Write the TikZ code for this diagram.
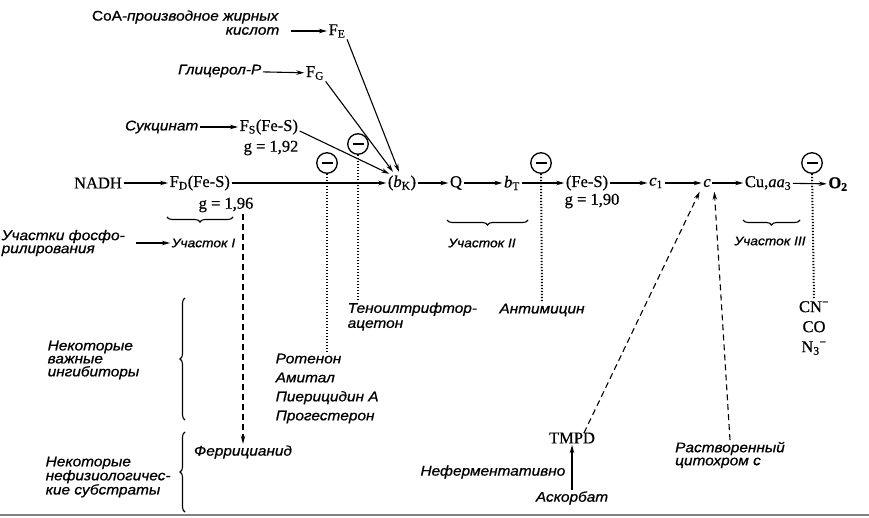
\documentclass[tikz,border=0pt]{standalone}
\usepackage{fontspec}
\setmainfont{Liberation Serif}[FakeBold=0.6]
\newfontfamily\labfont[FakeStretch=1.1,FakeBold=0.8]{Liberation Sans}
\usetikzlibrary{arrows.meta,decorations.pathreplacing,calc}
\begin{document}
\begin{tikzpicture}[x=1pt,y=-1pt,
  every node/.style={inner sep=1.5pt},
  main/.style={font=\fontsize{16.5}{18}\selectfont},
  lab/.style={font=\labfont\itshape\fontsize{14}{13}\selectfont},
  site/.style={font=\labfont\itshape\fontsize{12.5}{13}\selectfont},
  arr/.style={-{Stealth[length=8pt,width=4.5pt]}, line width=1.1pt},
  dasharr/.style={arr, dash pattern=on 6pt off 4pt},
  dots/.style={line width=2pt, dash pattern=on 1.3pt off 1.7pt},
  inh/.style={circle, draw, line width=1.3pt, minimum size=20.5pt, inner sep=0pt,
    path picture={\draw[line width=1.4pt] ($(path picture bounding box.center)+(-5.5,0)$) -- ($(path picture bounding box.center)+(5.5,0)$);}},
  brc/.style={decorate, decoration={brace, amplitude=5pt}, line width=1.1pt},
]
\useasboundingbox (0,0) rectangle (869,518);
\draw[gray, line width=2.5pt] (0,515) -- (869,515);

% main chain
\node[main] (nadh) at (98,183) {NADH};
\node[main, anchor=west] (fd) at (168,183) {F\textsubscript{D}(Fe-S)};
\node[main] (gd) at (226,205) {g = 1,96};
\node[main] (bk) at (402,183) {(\textit{b}\textsubscript{K})};
\node[main] (q) at (456,183) {Q};
\node[main] (bt) at (512,183) {\textit{b}\textsubscript{T}};
\node[main] (fes) at (587,183) {(Fe-S)};
\node[main] (g90) at (592,201) {g = 1,90};
\node[main] (c1) at (656,183) {\textit{c}\textsubscript{1}};
\node[main] (c) at (707,183) {\textit{c}};
\node[main] (cu) at (768,183) {Cu,\textit{aa}\textsubscript{3}};
\node[main, font=\fontsize{16.5}{18}\selectfont\bfseries] (o2) at (838,184) {O\textsubscript{2}};

% side substrates
\node[lab, anchor=east] (coaA) at (280,17) {{\upshape CoA}-производное жирных};
\node[lab, anchor=east] (coaB) at (281,31) {кислот};
\node[main] (fe) at (337,31) {F\textsubscript{E}};
\node[lab, anchor=east] (glic) at (263,71) {Глицерол-Р};
\node[main] (fg) at (315,73) {F\textsubscript{G}};
\node[lab, anchor=east] (suc) at (200,127) {Сукцинат};
\node[main, anchor=west] (fs) at (238,127) {F\textsubscript{S}(Fe-S)};
\node[main] (gs) at (271,148) {g = 1,92};

\draw[arr] (nadh) -- (fd);
\draw[arr] (fd) -- (bk);
\draw[arr] (bk) -- (q);
\draw[arr] (q) -- (bt);
\draw[arr] (bt) -- (fes);
\draw[arr] (fes) -- (c1);
\draw[arr] (c1) -- (c);
\draw[arr] (c) -- (cu);
\draw[arr] (cu) -- (o2);
\draw[arr, shorten <=10pt] (coaB) -- (fe);
\draw[arr] (glic) -- (fg);
\draw[arr] (suc) -- (fs);
\draw[arr] ($(fs.east)+(0,4)$) -- ($(bk.north west)+(3,0)$);
\draw[arr] (fg.south east) -- ($(bk.north)+(-9,-2)$);
\draw[arr] (fe.south east) -- ($(bk.north)+(-3,-2)$);

% phosphorylation sites
\node[lab, anchor=west, align=left] (phos) at (0,243) {Участки фосфо-\\рилирования};
\node[site, anchor=west] (uch1) at (170,243) {Участок I};
\node[site] (uch2) at (482,243) {Участок II};
\node[site] (uch3) at (770,241) {Участок III};
\draw[arr, shorten <=10pt] (phos) -- (uch1);
\draw[brc] (233,217) -- (167,217);
\draw[brc] (528,220) -- (447,220);
\draw[brc] (800,220) -- (743,220);

% inhibitors
\node[inh] (i1) at (327,163) {};
\node[inh] (i2) at (358,144) {};
\node[inh] (i3) at (541,163) {};
\node[inh] (i4) at (812,163) {};
\node[lab, anchor=north west, align=left, font=\labfont\itshape\fontsize{14}{19}\selectfont] (rot) at (274,352) {Ротенон\\Амитал\\Пиерицидин А\\Прогестерон};
\node[lab, anchor=north west, align=left, font=\labfont\itshape\fontsize{14}{15}\selectfont] (teno) at (346,301) {Теноилтрифтор-\\ацетон};
\node[lab] (anti) at (542,310) {Антимицин};
\node[main, align=center, font=\fontsize{16.5}{20}\selectfont] (cn) at (814,328) {CN\textsuperscript{−}\\CO\\N\textsubscript{3}\textsuperscript{−}};
\draw[dots] (i1.south) -- (i1.south |- rot.north);
\draw[dots] (i2.south) -- (i2.south |- teno.north);
\draw[dots] (i3.south) -- (anti.north);
\draw[dots] (i4.south) -- (cn.north);

% artificial substrates
\node[lab] (ferri) at (243,452) {Феррицианид};
\draw[dasharr] ($(ferri.north |- gd.south)+(0,0)$) -- ($(ferri.north)+(0,0)$);
\node[main] (tmpd) at (572,438) {TMPD};
\node[lab] (asc) at (572,498) {Аскорбат};
\node[lab, anchor=east] (nefer) at (567,472) {Неферментативно};
\draw[arr] (asc.north) -- (tmpd.south);
\node[lab, align=left] (rast) at (730,455) {Растворенный\\цитохром с};
\draw[dasharr] ($(tmpd.north)+(12,2)$) -- ($(c.south west)+(-2,3)$);
\draw[dasharr] (rast.north) -- ($(c.south east)+(2,3)$);

% left braces
\node[lab, anchor=west, align=left] (inhtxt) at (46,360) {Некоторые\\важные\\ингибиторы};
\node[lab, anchor=west, align=left] (subtxt) at (44,477) {Некоторые\\нефизиологичес-\\кие субстраты};
\draw[brc] (185,420) -- (185,298);
\draw[brc] (185,512) -- (185,432);
\end{tikzpicture}
\end{document}
